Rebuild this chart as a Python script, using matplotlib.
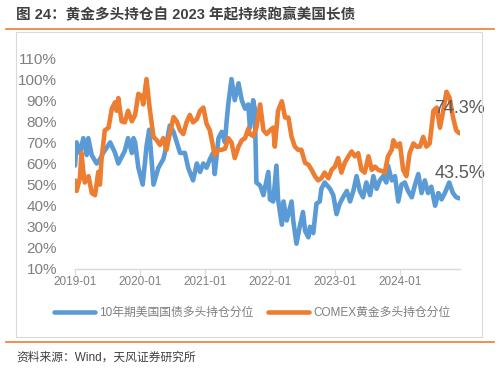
import matplotlib
matplotlib.use("Agg")
import matplotlib.pyplot as plt
from matplotlib.lines import Line2D
from matplotlib.patches import Rectangle
from matplotlib import font_manager
import numpy as np

plt.rcParams['font.family'] = ['Liberation Sans', 'Noto Sans CJK SC', 'DejaVu Sans']
_names = {f.name for f in font_manager.fontManager.ttflist}
NARROW = 'Liberation Sans Narrow' if 'Liberation Sans Narrow' in _names else 'Liberation Sans'

title = "图 24：黄金多头持仓自 2023 年起持续跑赢美国长债"
source = "资料来源：Wind，天风证券研究所"
label_blue = "10年期美国国债多头持仓分位"
label_orange = "COMEX黄金多头持仓分位"
xtick_years = [2019, 2020, 2021, 2022, 2023, 2024]
xtick_labels = ["2019-01", "2020-01", "2021-01", "2022-01", "2023-01", "2024-01"]
ytick_values = [10, 20, 30, 40, 50, 60, 70, 80, 90, 100, 110]

# months since 2019-01
blue_months = [0, 0.31, 0.92, 1.54, 2.15, 2.46, 3.08, 4.0, 4.6, 5.2, 6.5, 7.4, 8.0, 8.6, 9.2, 9.8,
               10.5, 10.8, 11.1, 11.7, 12.5, 12.9, 13.2, 13.7, 14.5, 15.4, 16.3, 16.6, 17.5, 18.2,
               18.8, 19.4, 20.3, 20.9, 21.8, 22.5, 23.1, 23.7, 24.3, 24.9, 25.5, 25.8, 26.5, 27.1,
               27.7, 28.0, 28.3, 28.9, 29.5, 30.2, 30.8, 31.4, 32.0, 32.3, 32.9, 33.2, 33.5, 34.2,
               34.8, 35.7, 36.0, 36.6, 37.2, 37.5, 38.2, 38.5, 39.1, 40.0, 40.3, 40.9, 41.5, 42.1,
               42.5, 43.1, 43.4, 44.0, 44.6, 45.2, 45.5, 46.1, 47.1, 47.7, 48.3, 48.9, 49.5, 50.2,
               50.8, 51.4, 52.0, 52.6, 53.2, 53.8, 54.5, 55.1, 55.7, 56.3, 56.9, 57.5, 57.8, 58.5,
               59.1, 59.7, 60.3, 60.9, 61.5, 62.2, 62.8, 63.4, 64.0, 64.6, 65.2, 65.8, 66.5, 67.1,
               67.7, 68.3, 69.1, 69.8, 70.4, 71.0]
blue_values = [59, 70, 65, 72, 64, 72, 64, 60, 62, 65, 70, 65, 60, 63, 66, 72,
               65, 72, 70, 58, 50, 60, 68, 76, 50, 58, 62, 65, 78, 75,
               70, 65, 65, 58, 52, 60, 56, 60, 58, 62, 65, 55, 72, 75,
               70, 80, 88, 100, 90, 98, 90, 86, 88, 77, 90, 86, 51, 49.5,
               45, 56, 43, 42, 59, 43, 31, 42, 33, 42, 33, 22, 30, 37,
               28, 25, 30, 27, 41, 42, 48, 51, 48, 45, 36, 41, 44, 47,
               42, 47, 54, 47, 44, 51, 45, 54, 48, 52, 54, 51, 59, 52,
               54, 42, 50, 51, 47, 44, 50, 55, 46, 52, 46, 49, 40, 46,
               43, 46, 51, 46, 44, 43.5]

orange_months = [0, 0.3, 0.9, 1.2, 1.5, 1.8, 2.5, 3.1, 3.7, 4.3, 4.6, 4.9, 5.5, 6.2, 6.8, 7.4,
                 7.7, 8.0, 8.6, 9.2, 9.8, 10.5, 11.1, 11.7, 12.3, 12.6, 13.2, 13.8, 14.5, 15.1,
                 15.7, 16.3, 16.9, 17.5, 18.2, 18.8, 19.4, 20.0, 20.6, 21.2, 21.8, 22.5, 23.1, 23.7,
                 24.3, 24.9, 25.8, 26.5, 27.1, 27.7, 28.3, 28.9, 29.5, 30.2, 30.8, 31.4, 32.0, 32.3,
                 32.9, 33.5, 34.2, 34.8, 35.4, 36.0, 36.6, 36.9, 37.5, 38.2, 38.8, 39.4, 40.0, 40.6,
                 41.2, 41.8, 42.5, 43.1, 43.7, 44.3, 44.9, 45.5, 46.1, 46.8, 47.4, 48.0, 48.6, 49.2,
                 49.8, 50.5, 51.1, 51.7, 52.3, 52.9, 53.5, 54.2, 54.8, 55.4, 56.0, 56.6, 57.2, 57.8,
                 58.5, 58.8, 59.4, 60.0, 60.6, 61.2, 61.8, 62.5, 63.1, 63.7, 64.3, 64.9, 65.5, 66.2,
                 66.8, 67.4, 68.0, 68.6, 69.2, 69.8, 70.4, 71.0]
orange_values = [52, 47, 53, 65, 57, 51, 54, 46, 45, 56, 50, 62, 75.7, 77, 86, 89,
                 85, 91, 80, 79.5, 85, 80, 83, 93, 92, 88, 100, 86, 72.6, 71,
                 68.8, 72, 66.5, 74, 82, 80, 75.7, 74, 79.5, 83, 79.5, 81, 85, 86.5,
                 78.8, 75.7, 64, 66.5, 66.5, 67, 72, 70, 62.6, 68, 71, 72, 76.5, 74,
                 73, 77, 88, 75.7, 74, 75.7, 77, 68, 85, 89.5, 81.8, 81.8, 72.6, 68,
                 66.5, 66.5, 60.3, 59.5, 57, 54, 52, 53, 55.7, 53, 57, 58.5, 62.6, 55.7,
                 60.3, 63.4, 65.7, 63.4, 64.9, 57, 55.7, 63.4, 57, 58.5, 57, 56.5, 55.7, 63.4,
                 66.5, 71, 68, 69.5, 57, 54, 64.9, 69.5, 68, 68, 72.6, 68, 69.5, 85,
                 86.5, 77, 85, 94, 91, 82, 75.7, 74.3]

BLUE = "#5B9BD5"
ORANGE = "#ED7D31"
GREY = "#7F7F7F"

W, H = 499, 372
fig = plt.figure(figsize=(W / 100, H / 100), dpi=100)

# frame lines and box
fig.add_artist(Line2D([6 / W, 494 / W], [1 - 29 / H, 1 - 29 / H], color=ORANGE, lw=1.2))
fig.add_artist(Line2D([6 / W, 494 / W], [1 - 342 / H, 1 - 342 / H], color=ORANGE, lw=1.2))
fig.add_artist(Rectangle((16 / W, 1 - 337 / H), 466 / W, 305 / H, fill=False,
                         edgecolor="#D9D9D9", lw=0.8))

fig.text(16 / W, 1 - 15 / H, title, fontsize=10.5, color="#404040", va="center", ha="left",
         fontweight="bold", family=['Liberation Sans', 'Noto Sans CJK SC'])
fig.text(16 / W, 1 - 358 / H, source, fontsize=8.5, color="#404040", va="center", ha="left",
         family=['Liberation Sans', 'Noto Sans CJK SC'])

ax = fig.add_axes([75 / W, 1 - 269 / H, 385 / W, 211 / H])
xb = 2019 + np.array(blue_months) / 12
xo = 2019 + np.array(orange_months) / 12
ax.plot(xb, blue_values, color=BLUE, lw=3.3, solid_joinstyle="round", solid_capstyle="round")
ax.plot(xo, orange_values, color=ORANGE, lw=3.3, solid_joinstyle="round", solid_capstyle="round")

ax.set_xlim(2019, 2019 + 71.1 / 12)
ax.set_ylim(10, 110)
ax.set_yticks(ytick_values)
ax.set_yticklabels([f"{v}%" for v in ytick_values], family=NARROW)
ax.set_xticks(xtick_years)
ax.set_xticklabels(xtick_labels)
for s in ["top", "right", "left"]:
    ax.spines[s].set_visible(False)
ax.spines["bottom"].set_color("#D9D9D9")
ax.spines["bottom"].set_linewidth(1.0)
ax.tick_params(axis="y", length=0, labelsize=11, labelcolor=GREY, pad=13)
ax.tick_params(axis="x", length=4, color="#D9D9D9", labelsize=8.5, labelcolor=GREY, pad=1)
ax.patch.set_alpha(0)

ax.annotate(f"{orange_values[-1]}%", (xo[-1], orange_values[-1]), xytext=(-18, 18),
            textcoords="offset points", ha="left", va="center", fontsize=13, color="#595959",
            family=NARROW)
ax.annotate(f"{blue_values[-1]}%", (xb[-1], blue_values[-1]), xytext=(-18, 18),
            textcoords="offset points", ha="left", va="center", fontsize=13, color="#595959",
            family=NARROW, annotation_clip=False)

handles = [Line2D([], [], color=BLUE, lw=3.3, solid_capstyle="round"),
           Line2D([], [], color=ORANGE, lw=3.3, solid_capstyle="round")]
fig.legend(handles, [label_blue, label_orange], loc="center", bbox_to_anchor=(252 / W, 1 - 313 / H),
           ncol=2, frameon=False, labelcolor=GREY, handlelength=3.5,
           handletextpad=0.35, columnspacing=1.2,
           prop={'family': ['Liberation Sans', 'Noto Sans CJK SC'], 'size': 8.5})

fig.savefig("out.png", dpi=100)
